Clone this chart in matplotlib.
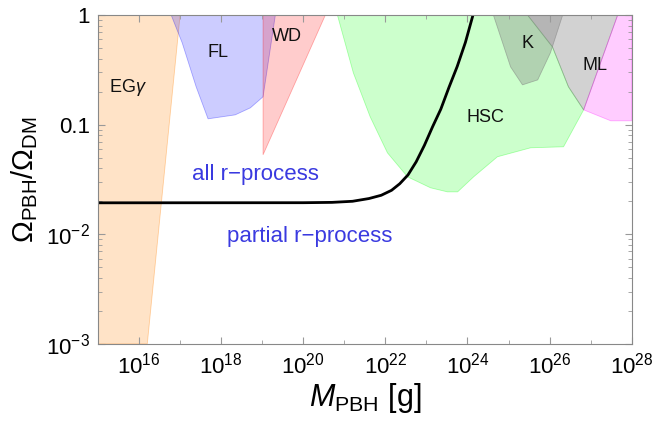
import numpy as np
import matplotlib.pyplot as plt
from matplotlib.ticker import NullFormatter, LogLocator, FixedLocator

plt.rcParams['font.family'] = ['Liberation Sans', 'DejaVu Sans']
plt.rcParams['mathtext.fontset'] = 'custom'
plt.rcParams['mathtext.rm'] = 'Liberation Sans'
plt.rcParams['mathtext.it'] = 'Liberation Sans:italic'

# constraint regions, log10(M/g) and log10(f)
eg_logm = [15.0, 16.2, 17.0, 15.0]
eg_logf = [-3.0, -3.0, 0.0, 0.0]

fl_logm = [16.78, 17.05, 17.39, 17.68, 18.34, 18.71, 19.02, 19.32]
fl_logf = [0.0, -0.255, -0.656, -0.948, -0.912, -0.848, -0.747, 0.0]

wd_logm = [19.02, 19.02, 20.54]
wd_logf = [0.0, -1.276, 0.0]

hsc_logm = [20.83, 21.22, 21.63, 22.05, 22.54, 23.10, 23.51, 23.76, 24.15,
            24.73, 25.54, 26.34, 26.83, 26.46, 26.07, 25.46]
hsc_logf = [0.0, -0.529, -0.930, -1.258, -1.477, -1.577, -1.614, -1.614, -1.477,
            -1.294, -1.212, -1.203, -0.866, -0.656, -0.292, 0.0]

k_logm = [24.63, 25.05, 25.34, 25.71, 26.02, 26.32]
k_logf = [0.0, -0.474, -0.638, -0.593, -0.346, 0.0]

ml_logm = [25.46, 26.07, 26.46, 26.83, 27.66]
ml_logf = [0.0, -0.292, -0.656, -0.866, 0.0]

mag_logm = [27.66, 26.83, 27.49, 28.0, 28.0]
mag_logf = [0.0, -0.866, -0.966, -0.966, 0.0]

# r-process bound curve
curve_logm = [15.0, 20.0, 20.7, 21.2, 21.6, 21.9, 22.15, 22.35, 22.55, 22.75,
              22.95, 23.15, 23.35, 23.55, 23.75, 23.95, 24.15]
curve_logf = [-1.714, -1.713, -1.71, -1.70, -1.675, -1.645, -1.60, -1.54, -1.46, -1.34,
              -1.19, -1.02, -0.86, -0.66, -0.47, -0.25, 0.02]

regions = [
    (eg_logm, eg_logf, (1.0, 0.5, 0.0), 0.22),
    (fl_logm, fl_logf, (0.0, 0.0, 1.0), 0.2),
    (wd_logm, wd_logf, (1.0, 0.0, 0.0), 0.2),
    (hsc_logm, hsc_logf, (0.0, 1.0, 0.0), 0.2),
    (k_logm, k_logf, (0.5, 0.5, 0.5), 0.35),
    (ml_logm, ml_logf, (0.5, 0.5, 0.5), 0.35),
    (mag_logm, mag_logf, (1.0, 0.0, 1.0), 0.2),
]

fig = plt.figure(figsize=(6.58, 4.25), dpi=100)
ax = fig.add_axes([0.149, 0.191, 0.811, 0.774])

for lm, lf, col, a in regions:
    ax.fill(10.0 ** np.array(lm), 10.0 ** np.array(lf), facecolor=col + (a,),
            edgecolor=col + (a * 1.5,), linewidth=0.6)

ax.plot(10.0 ** np.array(curve_logm), 10.0 ** np.array(curve_logf), color='black', lw=2.0)

ax.set_xscale('log')
ax.set_yscale('log')
ax.set_xlim(1e15, 1e28)
ax.set_ylim(1e-3, 1)

xt = [1e16, 1e18, 1e20, 1e22, 1e24, 1e26, 1e28]
ax.xaxis.set_major_locator(FixedLocator(xt))
ax.set_xticklabels([r'$10^{%d}$' % int(np.log10(v)) for v in xt])
ax.xaxis.set_minor_locator(FixedLocator([10.0 ** k for k in range(15, 28, 2)]))
ax.xaxis.set_minor_formatter(NullFormatter())
yt = [1e-3, 1e-2, 0.1, 1]
ax.yaxis.set_major_locator(FixedLocator(yt))
ax.set_yticklabels([r'$10^{-3}$', r'$10^{-2}$', '0.1', '1'])
ax.yaxis.set_minor_locator(LogLocator(base=10, subs=np.arange(2, 10)))
ax.yaxis.set_minor_formatter(NullFormatter())

ax.tick_params(which='both', direction='in', top=True, right=True, color='#999999',
               labelsize=16, pad=6)
ax.tick_params(which='major', length=5)
ax.tick_params(which='minor', length=3)
for s in ax.spines.values():
    s.set_color('#888888')

ax.set_xlabel(r'$M_{\rm PBH}$ [g]', fontsize=22, labelpad=2)
ax.set_ylabel(r'$\Omega_{\rm PBH}/\Omega_{\rm DM}$', fontsize=21, labelpad=4)

labels = [('EG$\\gamma$', 10 ** 15.73, 0.216), ('FL', 10 ** 17.93, 0.45),
          ('WD', 10 ** 19.61, 0.63), ('HSC', 10 ** 24.44, 0.115),
          ('K', 10 ** 25.46, 0.544), ('ML', 10 ** 27.1, 0.343)]
for t, x, y in labels:
    ax.text(x, y, t, fontsize=13, ha='center', va='center', color='#111111')

ax.text(10 ** 18.83, 0.0348, 'all r\u2212process', fontsize=16, color='#3a3ae0',
        ha='center', va='center')
ax.text(10 ** 20.15, 0.0095, 'partial r\u2212process', fontsize=16, color='#3a3ae0',
        ha='center', va='center')

fig.savefig('out.png', dpi=100)
